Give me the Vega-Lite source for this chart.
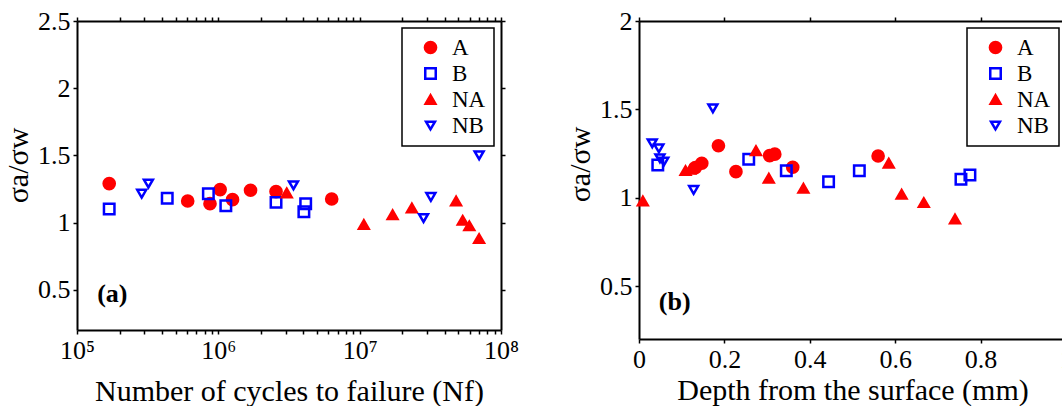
{
  "$schema": "https://vega.github.io/schema/vega-lite/v6.json",
  "padding": {"left": 3, "top": 8, "right": 0, "bottom": 0},
  "background": "white",
  "datasets": {
    "fatigue": [
      {"series": "A", "cycles": 169000, "ratio": 1.29},
      {"series": "A", "cycles": 607000, "ratio": 1.16},
      {"series": "A", "cycles": 873000, "ratio": 1.14},
      {"series": "A", "cycles": 1030000, "ratio": 1.245},
      {"series": "A", "cycles": 1260000, "ratio": 1.17},
      {"series": "A", "cycles": 1690000, "ratio": 1.24},
      {"series": "A", "cycles": 2560000, "ratio": 1.23},
      {"series": "A", "cycles": 6340000, "ratio": 1.175},
      {"series": "B", "cycles": 169000, "ratio": 1.10},
      {"series": "B", "cycles": 435000, "ratio": 1.18},
      {"series": "B", "cycles": 850000, "ratio": 1.215},
      {"series": "B", "cycles": 1130000, "ratio": 1.125},
      {"series": "B", "cycles": 2560000, "ratio": 1.15},
      {"series": "B", "cycles": 4150000, "ratio": 1.14},
      {"series": "B", "cycles": 4030000, "ratio": 1.08},
      {"series": "NA", "cycles": 3050000, "ratio": 1.22},
      {"series": "NA", "cycles": 10700000, "ratio": 0.985},
      {"series": "NA", "cycles": 17100000, "ratio": 1.058},
      {"series": "NA", "cycles": 23400000, "ratio": 1.108},
      {"series": "NA", "cycles": 48100000, "ratio": 1.16},
      {"series": "NA", "cycles": 53600000, "ratio": 1.016},
      {"series": "NA", "cycles": 59700000, "ratio": 0.975},
      {"series": "NA", "cycles": 70000000, "ratio": 0.88},
      {"series": "NB", "cycles": 287000, "ratio": 1.215},
      {"series": "NB", "cycles": 320000, "ratio": 1.29},
      {"series": "NB", "cycles": 3400000, "ratio": 1.277},
      {"series": "NB", "cycles": 28300000, "ratio": 1.033},
      {"series": "NB", "cycles": 31900000, "ratio": 1.19},
      {"series": "NB", "cycles": 70000000, "ratio": 1.5}
    ],
    "depth": [
      {"series": "A", "depth": 0.132, "ratio": 1.17},
      {"series": "A", "depth": 0.147, "ratio": 1.195},
      {"series": "A", "depth": 0.186, "ratio": 1.294},
      {"series": "A", "depth": 0.227, "ratio": 1.147},
      {"series": "A", "depth": 0.306, "ratio": 1.238},
      {"series": "A", "depth": 0.318, "ratio": 1.246},
      {"series": "A", "depth": 0.360, "ratio": 1.172},
      {"series": "A", "depth": 0.560, "ratio": 1.236},
      {"series": "B", "depth": 0.044, "ratio": 1.185},
      {"series": "B", "depth": 0.257, "ratio": 1.217},
      {"series": "B", "depth": 0.345, "ratio": 1.153},
      {"series": "B", "depth": 0.444, "ratio": 1.09},
      {"series": "B", "depth": 0.516, "ratio": 1.153},
      {"series": "B", "depth": 0.754, "ratio": 1.104},
      {"series": "B", "depth": 0.775, "ratio": 1.128},
      {"series": "NA", "depth": 0.009, "ratio": 0.981},
      {"series": "NA", "depth": 0.109, "ratio": 1.153},
      {"series": "NA", "depth": 0.12, "ratio": 1.16},
      {"series": "NA", "depth": 0.274, "ratio": 1.266},
      {"series": "NA", "depth": 0.304, "ratio": 1.11},
      {"series": "NA", "depth": 0.385, "ratio": 1.053},
      {"series": "NA", "depth": 0.585, "ratio": 1.195},
      {"series": "NA", "depth": 0.615, "ratio": 1.019},
      {"series": "NA", "depth": 0.667, "ratio": 0.972},
      {"series": "NA", "depth": 0.740, "ratio": 0.879},
      {"series": "NB", "depth": 0.173, "ratio": 1.506},
      {"series": "NB", "depth": 0.031, "ratio": 1.308},
      {"series": "NB", "depth": 0.0465, "ratio": 1.279},
      {"series": "NB", "depth": 0.049, "ratio": 1.223},
      {"series": "NB", "depth": 0.058, "ratio": 1.204},
      {"series": "NB", "depth": 0.128, "ratio": 1.044}
    ]
  },
  "hconcat": [
    {
      "width": 424,
      "height": 309,
      "layer": [
        {
          "data": {"name": "fatigue"},
          "mark": {"type": "point", "opacity": 1, "strokeWidth": 2.5},
          "encoding": {
            "x": {
              "field": "cycles", "type": "quantitative",
              "scale": {"type": "log", "domain": [100000, 100000000], "nice": false},
              "axis": {
                "orient": "bottom",
                "title": "Number of cycles to failure  (Nf)",
                "titlePadding": 13,
                "values": [100000, 200000, 300000, 400000, 500000, 600000, 700000, 800000, 900000, 1000000, 2000000, 3000000, 4000000, 5000000, 6000000, 7000000, 8000000, 9000000, 10000000, 20000000, 30000000, 40000000, 50000000, 60000000, 70000000, 80000000, 90000000, 100000000],
                "labelExpr": "datum.value == 100000 ? '10⁵' : datum.value == 1000000 ? '10⁶' : datum.value == 10000000 ? '10⁷' : datum.value == 100000000 ? '10⁸' : ''"
              }
            },
            "y": {
              "field": "ratio", "type": "quantitative",
              "scale": {"domain": [0.2, 2.5], "nice": false, "zero": false},
              "axis": {"orient": "left", "title": "σa/σw", "titleY": 144, "values": [0.5, 1, 1.5, 2, 2.5], "format": "~g"}
            },
            "shape": {"field": "series", "type": "nominal", "title": null,
              "scale": {"domain": ["A", "B", "NA", "NB"], "range": ["circle", "square", "triangle-up", "triangle-down"]}},
            "fill": {"field": "series", "type": "nominal", "title": null,
              "scale": {"domain": ["A", "B", "NA", "NB"], "range": ["#ff0000", "transparent", "#ff0000", "transparent"]}},
            "stroke": {"field": "series", "type": "nominal", "title": null,
              "scale": {"domain": ["A", "B", "NA", "NB"], "range": ["#ff0000", "#0000ff", "#ff0000", "#0000ff"]}},
            "size": {"field": "series", "type": "nominal", "title": null,
              "scale": {"domain": ["A", "B", "NA", "NB"], "range": [125, 80, 175, 185]}}
          }
        },
        {
          "data": {"values": [{"panel": "(a)", "cycles": 139000, "ratio": 0.467}]},
          "mark": {"type": "text", "font": "Liberation Serif, DejaVu Serif, serif", "fontWeight": "bold", "fontSize": 26, "align": "left", "baseline": "middle", "color": "black"},
          "encoding": {
            "x": {"field": "cycles", "type": "quantitative",
              "scale": {"type": "log", "domain": [100000, 100000000], "nice": false},
              "axis": {"orient": "top", "labels": false, "title": null, "domain": true, "ticks": true, "domainColor": "black", "domainWidth": 2,
                "values": [100000, 200000, 300000, 400000, 500000, 600000, 700000, 800000, 900000, 1000000, 2000000, 3000000, 4000000, 5000000, 6000000, 7000000, 8000000, 9000000, 10000000, 20000000, 30000000, 40000000, 50000000, 60000000, 70000000, 80000000, 90000000, 100000000]}},
            "y": {"field": "ratio", "type": "quantitative",
              "scale": {"domain": [0.2, 2.5], "nice": false, "zero": false},
              "axis": {"orient": "right", "labels": false, "title": null, "domain": true, "ticks": true, "domainColor": "black", "domainWidth": 2, "values": [0.5, 1, 1.5, 2, 2.5]}},
            "text": {"field": "panel"}
          }
        }
      ],
      "resolve": {"scale": {"x": "independent", "y": "independent"}, "axis": {"x": "independent", "y": "independent"}}
    },
    {
      "width": 427,
      "height": 318,
      "layer": [
        {
          "data": {"name": "depth"},
          "mark": {"type": "point", "opacity": 1, "strokeWidth": 2.5},
          "encoding": {
            "x": {
              "field": "depth", "type": "quantitative",
              "scale": {"domain": [0, 1], "nice": false},
              "axis": {"orient": "bottom", "title": "Depth from the surface (mm)", "titlePadding": 3, "values": [0, 0.2, 0.4, 0.6, 0.8, 1], "format": "~g"}
            },
            "y": {
              "field": "ratio", "type": "quantitative",
              "scale": {"domain": [0.2, 2], "nice": false, "zero": false},
              "axis": {"orient": "left", "title": "σa/σw", "titleY": 143, "values": [0.5, 1, 1.5, 2], "format": "~g"}
            },
            "shape": {"field": "series", "type": "nominal", "title": null,
              "scale": {"domain": ["A", "B", "NA", "NB"], "range": ["circle", "square", "triangle-up", "triangle-down"]}},
            "fill": {"field": "series", "type": "nominal", "title": null,
              "scale": {"domain": ["A", "B", "NA", "NB"], "range": ["#ff0000", "transparent", "#ff0000", "transparent"]}},
            "stroke": {"field": "series", "type": "nominal", "title": null,
              "scale": {"domain": ["A", "B", "NA", "NB"], "range": ["#ff0000", "#0000ff", "#ff0000", "#0000ff"]}},
            "size": {"field": "series", "type": "nominal", "title": null,
              "scale": {"domain": ["A", "B", "NA", "NB"], "range": [125, 80, 175, 185]}}
          }
        },
        {
          "data": {"values": [{"panel": "(b)", "depth": 0.0465, "ratio": 0.41}]},
          "mark": {"type": "text", "font": "Liberation Serif, DejaVu Serif, serif", "fontWeight": "bold", "fontSize": 26, "align": "left", "baseline": "middle", "color": "black"},
          "encoding": {
            "x": {"field": "depth", "type": "quantitative",
              "scale": {"domain": [0, 1], "nice": false},
              "axis": {"orient": "top", "labels": false, "title": null, "domain": true, "ticks": true, "domainColor": "black", "domainWidth": 2, "values": [0, 0.2, 0.4, 0.6, 0.8, 1]}},
            "y": {"field": "ratio", "type": "quantitative",
              "scale": {"domain": [0.2, 2], "nice": false, "zero": false},
              "axis": {"orient": "right", "labels": false, "title": null, "domain": true, "ticks": true, "domainColor": "black", "domainWidth": 2, "values": [0.5, 1, 1.5, 2]}},
            "text": {"field": "panel"}
          }
        }
      ],
      "resolve": {"scale": {"x": "independent", "y": "independent"}, "axis": {"x": "independent", "y": "independent"}}
    }
  ],
  "resolve": {"scale": {"shape": "independent", "fill": "independent", "stroke": "independent", "size": "independent"}, "legend": {"shape": "independent", "fill": "independent", "stroke": "independent", "size": "independent"}},
  "spacing": 46,
  "config": {
    "view": {"stroke": null},
    "font": "Liberation Serif, DejaVu Serif, serif",
    "axis": {
      "grid": false,
      "domainColor": "black",
      "domainWidth": 2,
      "tickColor": "black",
      "tickWidth": 1.5,
      "tickSize": 4,
      "labelPadding": 3,
      "labelFont": "Liberation Serif, DejaVu Serif, serif",
      "labelFontSize": 26,
      "labelColor": "black",
      "labelFlush": false,
      "labelOverlap": false,
      "titleFont": "Liberation Serif, DejaVu Serif, serif",
      "titleFontSize": 30,
      "titleFontWeight": "normal",
      "titleColor": "black"
    },
    "legend": {
      "orient": "top-right",
      "offset": 7,
      "strokeColor": "black",
      "strokeWidth": 1.5,
      "fillColor": "white",
      "padding": 8,
      "rowPadding": 2,
      "symbolOffset": 9,
      "labelOffset": 10,
      "labelFont": "Liberation Serif, DejaVu Serif, serif",
      "labelFontSize": 23,
      "labelColor": "black",
      "symbolStrokeWidth": 2.5,
      "symbolOpacity": 1
    }
  }
}
